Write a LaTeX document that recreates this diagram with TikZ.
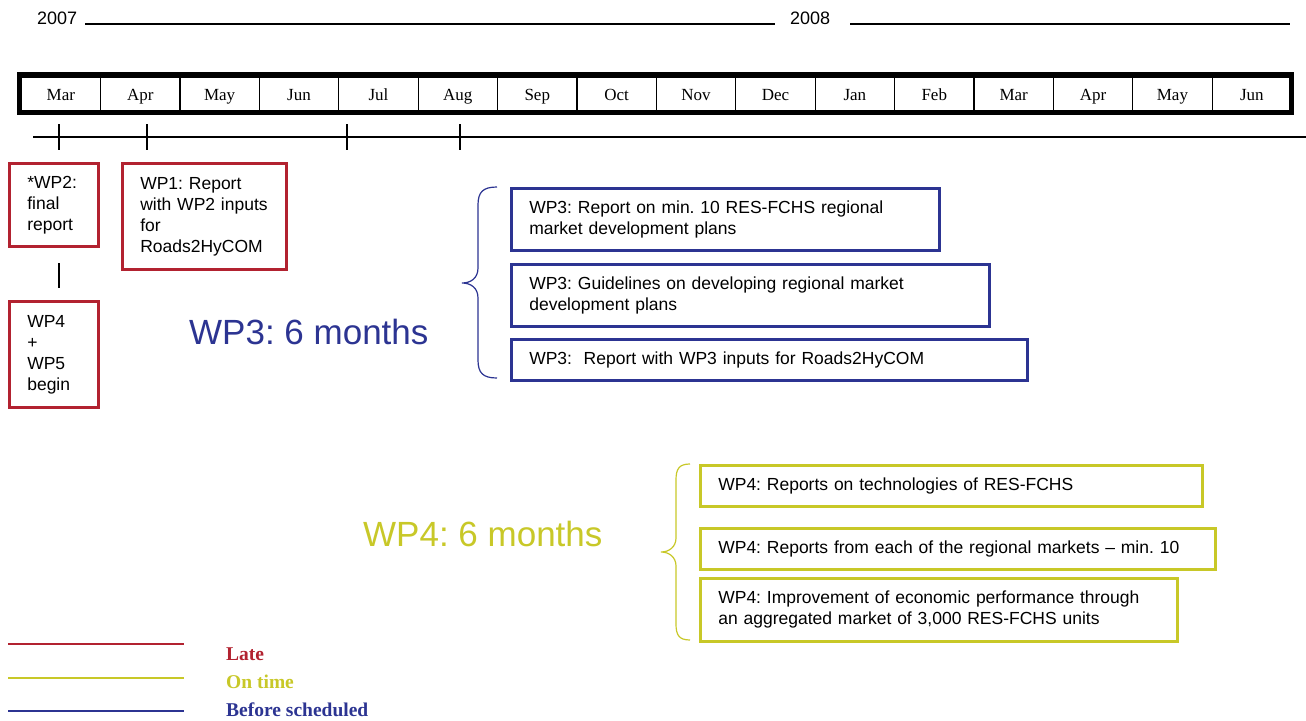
\documentclass[tikz,border=0pt]{standalone}
\usepackage{fontspec}
\setmainfont{Liberation Serif}
\setsansfont{Liberation Sans}
\definecolor{lred}{RGB}{178,34,48}
\definecolor{lblue}{RGB}{44,52,146}
\definecolor{lyel}{RGB}{200,200,40}
\frenchspacing
\tikzset{
  month/.style={draw,line width=1.3pt,minimum width=79.4pt,minimum height=34pt,inner sep=0pt,text height=14pt,text depth=1pt,anchor=north west,font=\fontsize{17}{19}\selectfont},
  wbox/.style={draw,line width=2.6pt,anchor=north west,inner xsep=18pt,inner ysep=0pt,align=left,font=\sffamily\fontsize{17.5}{21}\selectfont},
  redbox/.style={wbox,draw=lred},
  bluebox/.style={wbox,draw=lblue},
  yelbox/.style={wbox,draw=lyel},
  thin/.style={line width=1.1pt},
  legtxt/.style={anchor=west,font=\bfseries\fontsize{19.5}{21}\selectfont,inner sep=0pt}
}
\begin{document}
\begin{tikzpicture}[x=1pt,y=-1pt]
\useasboundingbox (0,0) rectangle (1306,720);
\fill[white] (0,0) rectangle (1306,720);
% years
\node[anchor=west,inner sep=0pt,font=\sffamily\fontsize{18}{20}\selectfont] (y07) at (37,18) {2007};
\node[anchor=west,inner sep=0pt,font=\sffamily\fontsize{18}{20}\selectfont] (y08) at (790,18) {2008};
\coordinate (l1a) at (85,24); \coordinate (l1b) at (775,24);
\coordinate (l2a) at (850,24); \coordinate (l2b) at (1290,24);
\draw[thin] (l1a) -- (l1b);
\draw[thin] (l2a) -- (l2b);
% month bar
\foreach \m [count=\i from 0] in {Mar,Apr,May,Jun,Jul,Aug,Sep,Oct,Nov,Dec,Jan,Feb,Mar,Apr,May,Jun}{
  \node[month] (m\i) at ({20.5+79.4*\i},76.5) {\m};
}
\draw[line width=5pt] (19,74.5) rectangle (1291,112.5);
% tick line
\coordinate (ta) at (33,137); \coordinate (tb) at (1306,137);
\draw[thin] (ta) -- (tb);
\foreach \x in {59,147,347,460}{
  \draw[thin] (\x,124) -- (\x,150);
}
% red boxes
\node[redbox,minimum width=89pt,minimum height=83pt,text width=53pt] (wp2) at (8,162) {*WP2:\\final\\report};
\node[redbox,minimum width=164pt,minimum height=106pt,text width=128pt] (wp1) at (121,162) {WP1: Report\\with WP2 inputs\\for\\Roads2HyCOM};
\node[redbox,minimum width=89pt,minimum height=106pt,text width=53pt] (wp45) at (8,300) {WP4\\+\\WP5\\begin};
\coordinate (va) at (59,263); \coordinate (vb) at (59,288);
\draw[thin] (va) -- (vb);
% WP3
\node[anchor=west,inner sep=0pt,text=lblue,font=\sffamily\fontsize{35}{38}\selectfont] (wp3t) at (189,332) {WP3: 6 months};
\draw[lblue,line width=1.2pt] (497,187) .. controls (483,187) and (478,192) .. (478,205) -- (478,268) .. controls (478,278) and (471,283) .. (462,283) .. controls (471,283) and (478,288) .. (478,298) -- (478,360) .. controls (478,373) and (483,378) .. (497,378);
\node[bluebox,minimum width=428pt,minimum height=62pt,text width=392pt] (b1) at (510,187) {WP3: Report on min. 10 RES-FCHS regional\\market development plans};
\node[bluebox,minimum width=478pt,minimum height=62pt,text width=442pt] (b2) at (510,263) {WP3: Guidelines on developing regional market\\development plans};
\node[bluebox,minimum width=516pt,minimum height=41pt,text width=480pt] (b3) at (510,338) {WP3:\ \ Report with WP3 inputs for Roads2HyCOM};
% WP4
\node[anchor=west,inner sep=0pt,text=lyel,font=\sffamily\fontsize{35}{38}\selectfont] (wp4t) at (363,534) {WP4: 6 months};
\draw[lyel,line width=1.2pt] (690,464) .. controls (679,464) and (676,469) .. (676,480) -- (676,538) .. controls (676,547) and (669,552) .. (661,552) .. controls (669,552) and (676,557) .. (676,566) -- (676,624) .. controls (676,635) and (679,640) .. (690,640);
\node[yelbox,minimum width=502pt,minimum height=41pt,text width=466pt] (c1) at (699,464) {WP4: Reports on technologies of RES-FCHS};
\node[yelbox,minimum width=515pt,minimum height=41pt,text width=479pt] (c2) at (699,527) {WP4: Reports from each of the regional markets -- min. 10};
\node[yelbox,minimum width=477pt,minimum height=63pt,text width=441pt] (c3) at (699,577) {WP4: Improvement of economic performance through\\an aggregated market of 3,000 RES-FCHS units};
% legend
\coordinate (la1) at (8,644); \coordinate (la2) at (184,644);
\coordinate (lb1) at (8,678); \coordinate (lb2) at (184,678);
\coordinate (lc1) at (8,711); \coordinate (lc2) at (184,711);
\draw[lred,line width=2.2pt] (la1) -- (la2);
\draw[lyel,line width=2.2pt] (lb1) -- (lb2);
\draw[lblue,line width=2.2pt] (lc1) -- (lc2);
\node[legtxt,text=lred] (late) at (226,654) {Late};
\node[legtxt,text=lyel] (ontime) at (226,682) {On time};
\node[legtxt,text=lblue] (before) at (226,710) {Before scheduled};
\end{tikzpicture}
\end{document}
